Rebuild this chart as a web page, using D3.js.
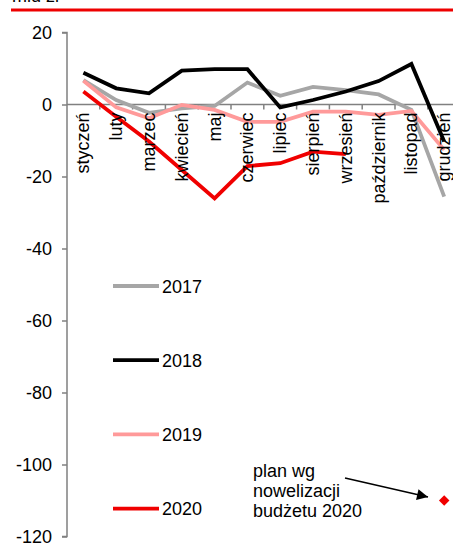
<!DOCTYPE html>
<html><head><meta charset="utf-8">
<script src="https://cdn.jsdelivr.net/npm/d3@7"></script>
<style>
body{margin:0;background:#fff;}
svg{display:block;font-family:"Liberation Sans",Arial,sans-serif;}
</style></head>
<body>
<svg id="c" width="453" height="549"></svg>
<script>
const months = ["styczeń","luty","marzec","kwiecień","maj","czerwiec","lipiec","sierpień","wrzesień","październik","listopad","grudzień"];
const yTicks = [20,0,-20,-40,-60,-80,-100,-120];
const v2017 = [6.8,1.25,-2.3,-1.1,-0.4,6.1,2.4,4.9,4.0,2.8,-1.5,-25.6];
const v2018 = [8.8,4.5,3.1,9.4,9.8,9.8,-0.8,1.25,3.6,6.5,11.25,-10.3];
const v2019 = [6.6,-0.8,-3.8,-0.1,-1.5,-4.8,-4.8,-2.0,-2.0,-2.9,-1.8,-12.6];
const v2020 = [3.6,-3.4,-10.3,-18.2,-26.1,-17.1,-16.3,-13.1,-13.8];
const seriesNames = ["2017","2018","2019","2020"];
const planMonth = "grudzień";
const planValue = -110;
const annotation = ["plan wg","nowelizacji","budżetu 2020"];
const title = "mld zł";

const svg = d3.select("#c");
const colors = {"2017":"#a6a6a6","2018":"#000000","2019":"#ff9a9a","2020":"#f00000"};
const data = {"2017":v2017,"2018":v2018,"2019":v2019,"2020":v2020};

const x = d3.scaleBand().domain(months).range([67, 67+12*32.8]);
const y = d3.scaleLinear().domain([-120,20]).range([536.5,32.5]);

// title + red rule
svg.append("text").attr("x",12).attr("y",2).attr("font-size",18).text(title);
svg.append("line").attr("x1",11).attr("x2",453).attr("y1",10).attr("y2",10)
  .attr("stroke","#ee0000").attr("stroke-width",3);

// y axis
const yAxis = svg.append("g").attr("transform","translate(67,0)")
  .call(d3.axisLeft(y).tickValues(yTicks).tickSize(5).tickPadding(10).tickFormat(d=>String(d)));
yAxis.select(".domain").attr("stroke","#808080").attr("stroke-width",1.5).attr("d","M-5,32.5H0V536.5H-5");
yAxis.selectAll(".tick line").attr("stroke","#808080").attr("stroke-width",1.5);
yAxis.selectAll(".tick text").attr("font-size",18).attr("fill","#000").attr("font-family","Liberation Sans, Arial, sans-serif");

// x axis at zero
const x0 = y(0);
svg.append("line").attr("x1",67).attr("x2",453).attr("y1",x0).attr("y2",x0)
  .attr("stroke","#808080").attr("stroke-width",1.5);
months.forEach((m,i)=>{
  if(i>0){
    const bx = x(m);
    svg.append("line").attr("x1",bx).attr("x2",bx).attr("y1",x0).attr("y2",x0+5)
      .attr("stroke","#808080").attr("stroke-width",1.5);
  }
});

// lines
const line = d3.line().x((d,i)=>x(months[i])+x.bandwidth()/2).y(d=>y(d));
seriesNames.forEach(s=>{
  svg.append("path").datum(data[s]).attr("d",line).attr("fill","none")
    .attr("stroke",colors[s]).attr("stroke-width",3.8).attr("stroke-linejoin","miter");
});

// x labels (drawn over lines)
months.forEach(m=>{
  const cx = x(m)+x.bandwidth()/2;
  svg.append("text").attr("transform",`translate(${cx+6},${x0+8}) rotate(-90)`)
    .attr("text-anchor","end").attr("font-size",18).text(m);
});

// legend
seriesNames.forEach((s,i)=>{
  const ly = 286 + i*74.2;
  svg.append("line").attr("x1",113).attr("x2",159).attr("y1",ly).attr("y2",ly)
    .attr("stroke",colors[s]).attr("stroke-width",3.8);
  svg.append("text").attr("x",162).attr("y",ly+6.5).attr("font-size",18).text(s);
});

// plan point
const px = x(planMonth)+x.bandwidth()/2, py = y(planValue);
svg.append("path").attr("d",d3.symbol(d3.symbolDiamond2,70)).attr("transform",`translate(${px},${py})`).attr("fill","#f00000");

// annotation
annotation.forEach((t,i)=>{
  svg.append("text").attr("x",253).attr("y",477+i*20).attr("font-size",18).text(t);
});
svg.append("defs").append("marker").attr("id","ah").attr("viewBox","0 0 10 10")
  .attr("refX",10).attr("refY",5).attr("markerWidth",14).attr("markerHeight",11)
  .attr("markerUnits","userSpaceOnUse").attr("orient","auto")
  .append("path").attr("d","M0,0L10,5L0,10z").attr("fill","#000");
svg.append("line").attr("x1",345).attr("y1",478).attr("x2",428).attr("y2",497)
  .attr("stroke","#000").attr("stroke-width",1.5).attr("marker-end","url(#ah)");
</script>
</body></html>
